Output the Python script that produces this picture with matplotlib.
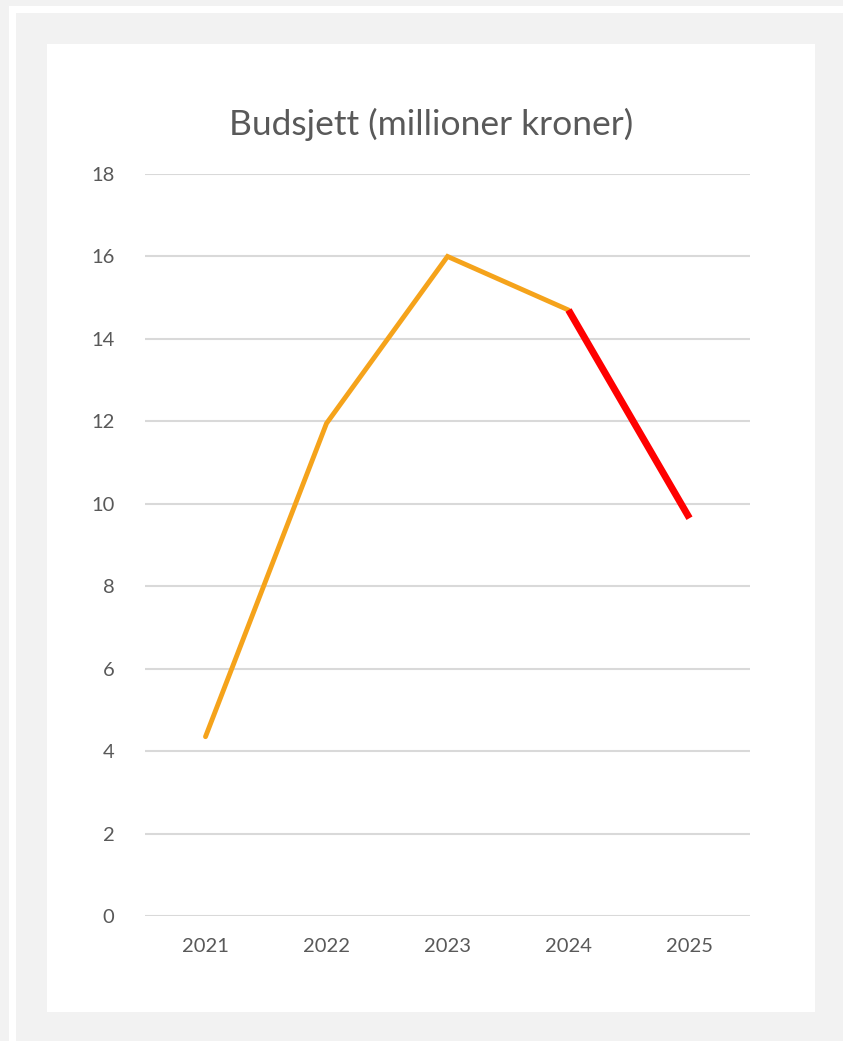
import matplotlib
matplotlib.use("Agg")
import matplotlib.pyplot as plt
from matplotlib.patches import Rectangle

years = ["2021", "2022", "2023", "2024", "2025"]
values = [4.35, 11.95, 16.0, 14.7, 9.65]
yticks = [0, 2, 4, 6, 8, 10, 12, 14, 16, 18]
title = "Budsjett (millioner kroner)"

W, H = 843, 1041
fig = plt.figure(figsize=(W / 100, H / 100), dpi=100)
fig.patch.set_facecolor("#f2f2f2")

def px_rect(x0, y0, x1, y1, color):
    fig.add_artist(Rectangle((x0 / W, 1 - y1 / H), (x1 - x0) / W, (y1 - y0) / H,
                             transform=fig.transFigure, facecolor=color,
                             edgecolor="none", zorder=-10))

# thin white frame band (top and left)
px_rect(9, 6, W, 13, "white")
px_rect(9, 6, 16, H, "white")
# chart area
px_rect(47, 44, 815, 1012, "white")

ax_l, ax_r, ax_t, ax_b = 145, 750, 174, 916
ax = fig.add_axes([ax_l / W, 1 - ax_b / H, (ax_r - ax_l) / W, (ax_b - ax_t) / H])
ax.set_facecolor("none")

x = list(range(len(years)))
ax.plot(x[:4], values[:4], color="#F5A31B", lw=3.5, solid_capstyle="round",
        solid_joinstyle="miter", zorder=3)
ax.plot(x[3:], values[3:], color="#FF0000", lw=5, solid_capstyle="butt", zorder=4)

ax.set_xlim(-0.5, 4.5)
ax.set_ylim(0, 18)
ax.set_yticks(yticks)
ax.set_xticks(x)
ax.set_xticklabels(years)
ax.grid(axis="y", color="#d9d9d9", lw=1.5)
ax.set_axisbelow(True)
for s in ax.spines.values():
    s.set_visible(False)
ax.tick_params(length=0, colors="#595959", labelsize=14.5)
ax.tick_params(axis="y", pad=22)
ax.tick_params(axis="x", pad=16)
for lbl in ax.get_xticklabels() + ax.get_yticklabels():
    lbl.set_fontfamily("Lato")

fig.text(431 / W, 1 - 124 / H, title, ha="center", va="center",
         fontsize=25.5, color="#595959", family="Lato")

fig.savefig("out.png", dpi=100, facecolor=fig.get_facecolor())
